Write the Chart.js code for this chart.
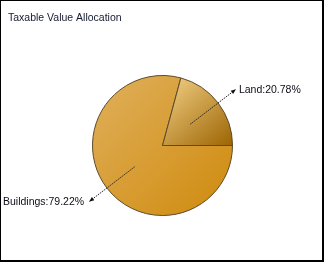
<!DOCTYPE html>
<html>
<head>
<meta charset="utf-8">
<script src="https://cdn.jsdelivr.net/npm/chart.js@4"></script>
<style>
  html, body { margin: 0; padding: 0; background: #fff; }
  #wrap { position: relative; width: 324px; height: 262px; }
</style>
</head>
<body>
<div id="wrap"><canvas id="chart" width="324" height="262"></canvas></div>
<script>
/* dados do gráfico */
const titulo = "Taxable Value Allocation";
const categorias = ["Buildings", "Land"];
const valores = [79.22, 20.78];

const fonte = "10.5px 'Liberation Sans', Arial, sans-serif";

// cores em degradê por fatia (claro em cima/esquerda, escuro embaixo/direita)
function degrade(ctx) {
  const chart = ctx.chart;
  const area = chart.chartArea;
  if (!area) return "#d8a040";
  const c = chart.ctx;
  const cx = (area.left + area.right) / 2, cy = (area.top + area.bottom) / 2;
  const r = Math.min(area.right - area.left, area.bottom - area.top) / 2;
  let g;
  if (ctx.dataIndex == 1) {
    g = c.createLinearGradient(cx + 10, cy - r, cx + r, cy);
    g.addColorStop(0, "#f0cd82");
    g.addColorStop(1, "#9c6402");
  } else {
    g = c.createLinearGradient(cx - r, cy - r, cx + r, cy + r);
    g.addColorStop(0, "#e0b05c");
    g.addColorStop(1, "#cf8a0c");
  }
  return g;
}

// plugin: título, moldura e rótulos com linha guia
const extras = {
  id: "extras",
  afterDraw(chart) {
    const c = chart.ctx;
    c.save();
    // moldura
    c.fillStyle = "#000";
    c.fillRect(0, 0, 324, 1);
    c.fillRect(0, 0, 1, 262);
    c.fillRect(322, 0, 2, 262);
    c.fillRect(0, 260, 324, 2);
    // título
    c.font = fonte;
    c.fillStyle = "#141a30";
    c.textBaseline = "middle";
    c.textAlign = "left";
    c.fillText(titulo, 8, 18);

    const meta = chart.getDatasetMeta(0);
    const total = valores.reduce((a, b) => a + b, 0);
    meta.data.forEach((arc, i) => {
      const p = arc.getProps(["x", "y", "startAngle", "endAngle", "outerRadius"], true);
      const meio = (p.startAngle + p.endAngle) / 2;
      const cos = Math.cos(meio), sin = Math.sin(meio);
      const x1 = p.x + cos * p.outerRadius * 0.5, y1 = p.y + sin * p.outerRadius * 0.5;
      const x2 = p.x + cos * p.outerRadius * 1.32, y2 = p.y + sin * p.outerRadius * 1.32;
      c.strokeStyle = "#222";
      c.lineWidth = 1;
      c.setLineDash([1.5, 1]);
      c.beginPath();
      c.moveTo(x1, y1);
      c.lineTo(x2, y2);
      c.stroke();
      c.setLineDash([]);
      // ponta de seta
      c.fillStyle = "#111";
      c.beginPath();
      c.moveTo(x2, y2);
      c.lineTo(x2 - cos * 5 - sin * 2, y2 - sin * 5 + cos * 2);
      c.lineTo(x2 - cos * 5 + sin * 2, y2 - sin * 5 - cos * 2);
      c.closePath();
      c.fill();
      // texto
      const pct = (valores[i] / total * 100).toFixed(2);
      const txt = categorias[i] + ":" + pct + "%";
      c.fillStyle = "#0c0c18";
      c.font = fonte;
      if (cos >= 0) {
        c.textAlign = "left";
        c.fillText(txt, x2 + 3, y2 + 0.5);
      } else {
        c.textAlign = "right";
        c.fillText(txt, x2 - 5, y2 + 0.5);
      }
    });
    c.restore();
  }
};

const data = {
  labels: categorias,
  datasets: [
    {
      data: valores,
      backgroundColor: degrade,
      borderColor: "#5c4a2c",
      borderWidth: 1,
    },
  ],
};

const config = {
  type: "pie",
  data: data,
  options: {
    responsive: false,
    animation: false,
    rotation: 90,
    layout: { padding: { left: 92, right: 91, top: 75, bottom: 46 } },
    plugins: {
      legend: { display: false },
      title: { display: false },
      tooltip: { enabled: false },
    },
  },
  plugins: [extras],
};

let myChart = new Chart(document.getElementById("chart"), config);
</script>
</body>
</html>
